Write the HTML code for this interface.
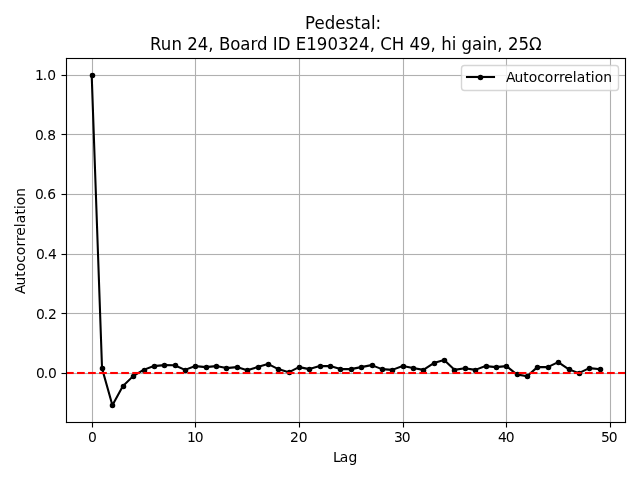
<!DOCTYPE html>
<html lang="en"><head><meta charset="utf-8"><title>Pedestal autocorrelation</title>
<style>
html,body{margin:0;padding:0;background:#fff;overflow:hidden}
body{width:640px;height:480px}
svg{display:block;position:absolute;left:0;top:0}
text{font-family:"DejaVu Sans","Liberation Sans",sans-serif;fill:#000;white-space:pre}
.t10{font-size:13.889px}
.t12{font-size:16.667px}
.grid{fill:#b0b0b0}
.tick,.spine{fill:#000}
.data{stroke:#000;stroke-width:2.083;fill:none;stroke-linejoin:round;stroke-linecap:square}
.mk{fill:#000;stroke:#000;stroke-width:1.389}
.zero{fill:#f00;stroke:none}
</style></head><body>
<svg width="640" height="480" viewBox="0 0 640 480" role="img" aria-label="Autocorrelation versus lag">
<rect width="640" height="480" fill="#fff"/>
<defs><clipPath id="ax"><rect x="66.5" y="58.5" width="559" height="364"/></clipPath></defs>
<!-- grid -->
<g class="grid">
<rect x="91.944" y="58.5" width="1.111" height="364"/>
<rect x="194.944" y="58.5" width="1.111" height="364"/>
<rect x="298.944" y="58.5" width="1.111" height="364"/>
<rect x="402.944" y="58.5" width="1.111" height="364"/>
<rect x="505.944" y="58.5" width="1.111" height="364"/>
<rect x="609.944" y="58.5" width="1.111" height="364"/>
<rect x="66.5" y="372.944" width="559" height="1.111"/>
<rect x="66.5" y="312.944" width="559" height="1.111"/>
<rect x="66.5" y="253.944" width="559" height="1.111"/>
<rect x="66.5" y="193.944" width="559" height="1.111"/>
<rect x="66.5" y="133.944" width="559" height="1.111"/>
<rect x="66.5" y="74.944" width="559" height="1.111"/>
</g>
<!-- tick marks -->
<g class="tick">
<rect x="91.944" y="422.5" width="1.111" height="5"/>
<rect x="194.944" y="422.5" width="1.111" height="5"/>
<rect x="298.944" y="422.5" width="1.111" height="5"/>
<rect x="402.944" y="422.5" width="1.111" height="5"/>
<rect x="505.944" y="422.5" width="1.111" height="5"/>
<rect x="609.944" y="422.5" width="1.111" height="5"/>
<rect x="61.5" y="372.944" width="5" height="1.111"/>
<rect x="61.5" y="312.944" width="5" height="1.111"/>
<rect x="61.5" y="253.944" width="5" height="1.111"/>
<rect x="61.5" y="193.944" width="5" height="1.111"/>
<rect x="61.5" y="133.944" width="5" height="1.111"/>
<rect x="61.5" y="74.944" width="5" height="1.111"/>
</g>
<!-- x tick labels -->
<g>
<text class="t10" transform="translate(88 442)" x="0" y="0">0</text>
<text class="t10" transform="translate(186 442)" x="1 8.75" y="0">10</text>
<text class="t10" transform="translate(290 442)" x="0 8.75" y="0">20</text>
<text class="t10" transform="translate(393 442)" x="1 8.75" y="0">30</text>
<text class="t10" transform="translate(497 442)" x="1 8.75" y="0">40</text>
<text class="t10" transform="translate(600 442)" x="1 8.75" y="0">50</text>
</g>
<!-- y tick labels -->
<g>
<text class="t10" transform="translate(35 378)" x="1 8.75 13" y="0">0.0</text>
<text class="t10" transform="translate(36 319)" x="0 7.75 12" y="0">0.2</text>
<text class="t10" transform="translate(36 259)" x="0 7.75 12" y="0">0.4</text>
<text class="t10" transform="translate(34 199)" x="1 8.75 13.25" y="0">0.6</text>
<text class="t10" transform="translate(34 140)" x="1 8.75 13.25" y="0">0.8</text>
<text class="t10" transform="translate(34 80)" x="1 8.75 13.25" y="0">1.0</text>
</g>
<!-- axis labels -->
<text class="t10" transform="translate(332 462)" x="1 7.75 16.5" y="0">Lag</text>
<text class="t10" transform="translate(25 295) rotate(-90)" x="1 9.5 18.25 23.75 32.25 39.75 48.5 54 59.25 67.75 71.75 80.5 86 89.75 98.25" y="0">Autocorrelation</text>
<!-- data series -->
<g clip-path="url(#ax)">
<polyline class="data" points="91.674,74.66 102.04,368.367 112.406,405.195 122.772,386.289 133.138,376.12 143.504,369.858 153.87,366.1 164.236,365.116 174.601,365.235 184.967,369.858 195.333,366.1 205.699,367.114 216.065,366.1 226.431,368.098 236.797,367.114 247.163,370.245 257.529,367.114 267.895,363.923 278.261,369.112 288.626,372.363 298.992,367.114 309.358,369.112 319.724,366.1 330.09,366.1 340.456,369.112 350.822,369.112 361.188,367.114 371.554,365.116 381.92,369.112 392.285,369.858 402.651,366.1 413.017,368.098 423.383,369.858 433.749,363.088 444.115,360.106 454.481,369.858 464.847,368.247 475.213,369.858 485.579,366.1 495.944,367.114 506.31,366.1 516.676,374.361 527.042,376.239 537.408,367.114 547.774,367.114 558.14,362.104 568.506,369.112 578.872,373.168 589.238,368.098 599.604,369.112"/>
<g class="mk">
<circle cx="92.5" cy="75.5" r="2.083"/>
<circle cx="102.5" cy="368.5" r="2.083"/>
<circle cx="112.5" cy="405.5" r="2.083"/>
<circle cx="123.5" cy="386.5" r="2.083"/>
<circle cx="133.5" cy="376.5" r="2.083"/>
<circle cx="144.5" cy="370.5" r="2.083"/>
<circle cx="154.5" cy="366.5" r="2.083"/>
<circle cx="164.5" cy="365.5" r="2.083"/>
<circle cx="175.5" cy="365.5" r="2.083"/>
<circle cx="185.5" cy="370.5" r="2.083"/>
<circle cx="195.5" cy="366.5" r="2.083"/>
<circle cx="206.5" cy="367.5" r="2.083"/>
<circle cx="216.5" cy="366.5" r="2.083"/>
<circle cx="226.5" cy="368.5" r="2.083"/>
<circle cx="237.5" cy="367.5" r="2.083"/>
<circle cx="247.5" cy="370.5" r="2.083"/>
<circle cx="258.5" cy="367.5" r="2.083"/>
<circle cx="268.5" cy="364.5" r="2.083"/>
<circle cx="278.5" cy="369.5" r="2.083"/>
<circle cx="289.5" cy="372.5" r="2.083"/>
<circle cx="299.5" cy="367.5" r="2.083"/>
<circle cx="309.5" cy="369.5" r="2.083"/>
<circle cx="320.5" cy="366.5" r="2.083"/>
<circle cx="330.5" cy="366.5" r="2.083"/>
<circle cx="340.5" cy="369.5" r="2.083"/>
<circle cx="351.5" cy="369.5" r="2.083"/>
<circle cx="361.5" cy="367.5" r="2.083"/>
<circle cx="372.5" cy="365.5" r="2.083"/>
<circle cx="382.5" cy="369.5" r="2.083"/>
<circle cx="392.5" cy="370.5" r="2.083"/>
<circle cx="403.5" cy="366.5" r="2.083"/>
<circle cx="413.5" cy="368.5" r="2.083"/>
<circle cx="423.5" cy="370.5" r="2.083"/>
<circle cx="434.5" cy="363.5" r="2.083"/>
<circle cx="444.5" cy="360.5" r="2.083"/>
<circle cx="454.5" cy="370.5" r="2.083"/>
<circle cx="465.5" cy="368.5" r="2.083"/>
<circle cx="475.5" cy="370.5" r="2.083"/>
<circle cx="486.5" cy="366.5" r="2.083"/>
<circle cx="496.5" cy="367.5" r="2.083"/>
<circle cx="506.5" cy="366.5" r="2.083"/>
<circle cx="517.5" cy="374.5" r="2.083"/>
<circle cx="527.5" cy="376.5" r="2.083"/>
<circle cx="537.5" cy="367.5" r="2.083"/>
<circle cx="548.5" cy="367.5" r="2.083"/>
<circle cx="558.5" cy="362.5" r="2.083"/>
<circle cx="569.5" cy="369.5" r="2.083"/>
<circle cx="579.5" cy="373.5" r="2.083"/>
<circle cx="589.5" cy="368.5" r="2.083"/>
<circle cx="600.5" cy="369.5" r="2.083"/>
</g>
<!-- zero reference line (dashed) -->
<g class="zero">
<rect x="66" y="371.958" width="7.708" height="2.083"/>
<rect x="77.042" y="371.958" width="7.708" height="2.083"/>
<rect x="88.083" y="371.958" width="7.708" height="2.083"/>
<rect x="99.125" y="371.958" width="7.708" height="2.083"/>
<rect x="110.167" y="371.958" width="7.708" height="2.083"/>
<rect x="121.208" y="371.958" width="7.708" height="2.083"/>
<rect x="132.25" y="371.958" width="7.708" height="2.083"/>
<rect x="143.292" y="371.958" width="7.708" height="2.083"/>
<rect x="154.333" y="371.958" width="7.708" height="2.083"/>
<rect x="165.375" y="371.958" width="7.708" height="2.083"/>
<rect x="176.417" y="371.958" width="7.708" height="2.083"/>
<rect x="187.458" y="371.958" width="7.708" height="2.083"/>
<rect x="198.5" y="371.958" width="7.708" height="2.083"/>
<rect x="209.542" y="371.958" width="7.708" height="2.083"/>
<rect x="220.583" y="371.958" width="7.708" height="2.083"/>
<rect x="231.625" y="371.958" width="7.708" height="2.083"/>
<rect x="242.667" y="371.958" width="7.708" height="2.083"/>
<rect x="253.708" y="371.958" width="7.708" height="2.083"/>
<rect x="264.75" y="371.958" width="7.708" height="2.083"/>
<rect x="275.792" y="371.958" width="7.708" height="2.083"/>
<rect x="286.833" y="371.958" width="7.708" height="2.083"/>
<rect x="297.875" y="371.958" width="7.708" height="2.083"/>
<rect x="308.917" y="371.958" width="7.708" height="2.083"/>
<rect x="319.958" y="371.958" width="7.708" height="2.083"/>
<rect x="331" y="371.958" width="7.708" height="2.083"/>
<rect x="342.042" y="371.958" width="7.708" height="2.083"/>
<rect x="353.083" y="371.958" width="7.708" height="2.083"/>
<rect x="364.125" y="371.958" width="7.708" height="2.083"/>
<rect x="375.167" y="371.958" width="7.708" height="2.083"/>
<rect x="386.208" y="371.958" width="7.708" height="2.083"/>
<rect x="397.25" y="371.958" width="7.708" height="2.083"/>
<rect x="408.292" y="371.958" width="7.708" height="2.083"/>
<rect x="419.333" y="371.958" width="7.708" height="2.083"/>
<rect x="430.375" y="371.958" width="7.708" height="2.083"/>
<rect x="441.417" y="371.958" width="7.708" height="2.083"/>
<rect x="452.458" y="371.958" width="7.708" height="2.083"/>
<rect x="463.5" y="371.958" width="7.708" height="2.083"/>
<rect x="474.542" y="371.958" width="7.708" height="2.083"/>
<rect x="485.583" y="371.958" width="7.708" height="2.083"/>
<rect x="496.625" y="371.958" width="7.708" height="2.083"/>
<rect x="507.667" y="371.958" width="7.708" height="2.083"/>
<rect x="518.708" y="371.958" width="7.708" height="2.083"/>
<rect x="529.75" y="371.958" width="7.708" height="2.083"/>
<rect x="540.792" y="371.958" width="7.708" height="2.083"/>
<rect x="551.833" y="371.958" width="7.708" height="2.083"/>
<rect x="562.875" y="371.958" width="7.708" height="2.083"/>
<rect x="573.917" y="371.958" width="7.708" height="2.083"/>
<rect x="584.958" y="371.958" width="7.708" height="2.083"/>
<rect x="596" y="371.958" width="7.708" height="2.083"/>
<rect x="607.042" y="371.958" width="7.708" height="2.083"/>
<rect x="618.083" y="371.958" width="7.417" height="2.083"/>
</g>
</g>
<!-- axes frame -->
<g class="spine">
<rect x="65.944" y="57.944" width="1.111" height="365.111"/>
<rect x="624.944" y="57.944" width="1.111" height="365.111"/>
<rect x="65.944" y="421.944" width="560.111" height="1.111"/>
<rect x="65.944" y="57.944" width="560.111" height="1.111"/>
</g>
<!-- title -->
<text class="t12" transform="translate(305 29) scale(0.995 1.06)" x="0 9.548 19.849 30.402 40.704 49.497 56.03 66.332 70.854" y="0">Pedestal:</text>
<text class="t12" transform="translate(150 50) scale(0.995 1.06)" x="0 10.804 21.608 32.412 37.437 47.99 58.543 64.322 69.347 80.653 90.704 101.005 107.538 118.844 123.367 128.392 141.709 146.482 157.035 167.588 178.392 188.945 199.497 210.05 220.854 226.633 231.407 242.965 256.03 260.804 271.357 281.91 287.94 292.714 303.266 308.291 313.065 323.618 333.92 338.442 348.995 355.025 359.799 370.352 380.905" y="0">Run 24, Board ID E190324, CH 49, hi gain, 25Ω</text>
<!-- legend -->
<path d="M464.5 90.5H615.5Q618.5 90.5 618.5 87.5V68.5Q618.5 65.5 615.5 65.5H464.5Q461.5 65.5 461.5 68.5V87.5Q461.5 90.5 464.5 90.5z" fill="#fff" fill-opacity="0.8" stroke="#ccc" stroke-opacity="0.8" stroke-width="1.389" stroke-linejoin="miter"/>
<path class="data" d="M467 77H494"/>
<circle class="mk" cx="480.5" cy="77.5" r="2.083"/>
<text class="t10" transform="translate(505 82)" x="1 9.5 18.25 23.75 32.25 39.75 48.5 54 59.25 67.75 71.75 80.5 85.75 89.75 98.25" y="0">Autocorrelation</text>
</svg>
</body></html>
